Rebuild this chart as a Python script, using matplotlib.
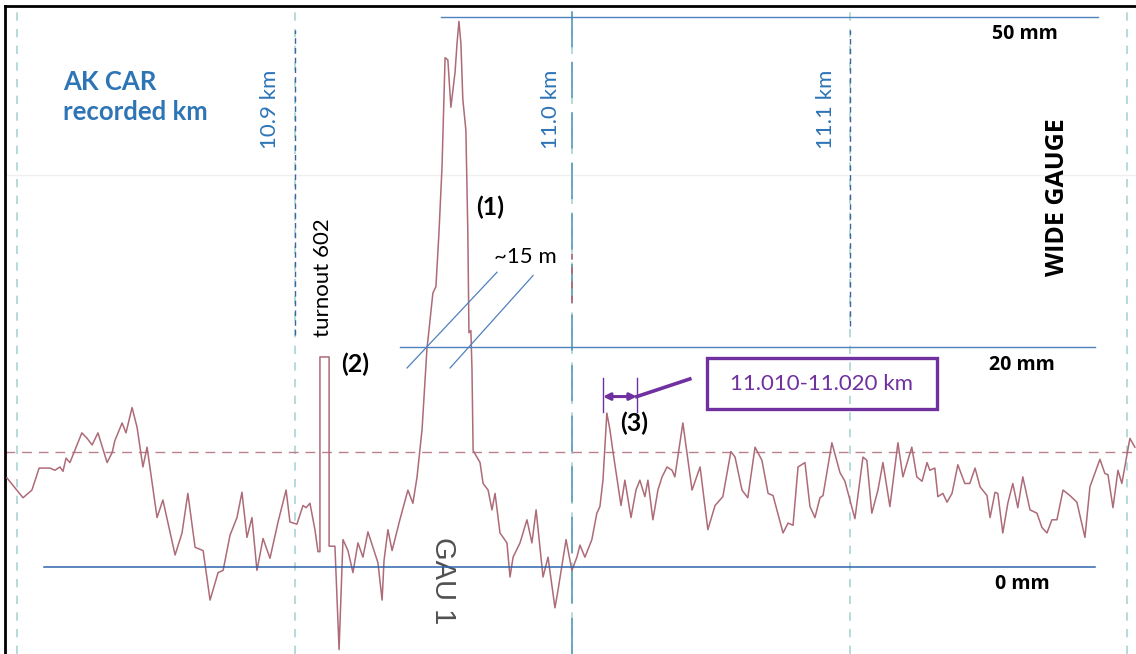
import numpy as np
import matplotlib.pyplot as plt
from matplotlib.patches import Rectangle

# gauge recording, distance in m, gauge deviation in mm
dist_m = [10796.2, 10799.1, 10802.0, 10805.2, 10807.8, 10811.7, 10813.5, 10815.3, 10816.4, 10817.5,
          10818.9, 10823.2, 10825.1, 10826.9, 10829.0, 10832.3, 10834.1, 10835.1, 10837.7, 10839.1,
          10841.3, 10843.1, 10845.2, 10846.7, 10850.3, 10852.4, 10856.8, 10859.3, 10861.4, 10864.0,
          10866.9, 10869.4, 10872.3, 10874.1, 10876.6, 10879.1, 10880.9, 10882.7, 10884.5, 10886.3,
          10888.5, 10891.0, 10893.9, 10896.8, 10898.2, 10900.7, 10902.9, 10904.0, 10905.4, 10907.2,
          10908.3, 10909.0, 10909.0, 10912.3, 10912.3, 10914.4, 10915.9, 10917.3, 10919.1, 10920.9,
          10922.7, 10924.5, 10926.3, 10928.1, 10929.9, 10931.4, 10932.1, 10933.5, 10935.0, 10937.8,
          10940.7, 10942.5, 10944.0, 10945.8, 10947.6, 10947.9, 10949.7, 10950.8, 10951.9, 10953.0,
          10954.1, 10955.1, 10956.2, 10957.7, 10958.4, 10959.1, 10959.8, 10960.5, 10961.6, 10962.3,
          10962.7, 10963.4, 10963.8, 10964.2, 10966.7, 10967.8, 10969.6, 10971.0, 10972.1, 10973.9,
          10976.4, 10977.5, 10978.6, 10981.1, 10983.6, 10985.4, 10986.9, 10989.4, 10991.2, 10993.0,
          10993.7, 10994.8, 10997.7, 10999.8, 11001.6, 11002.7, 11004.5, 11007.0, 11008.8, 11009.9,
          11011.0, 11012.4, 11013.5, 11014.6, 11017.5, 11018.9, 11021.1, 11022.9, 11024.3, 11026.1,
          11027.2, 11029.0, 11030.8, 11032.3, 11034.1, 11035.9, 11036.9, 11039.8, 11043.1, 11046.0,
          11048.8, 11051.4, 11054.2, 11057.1, 11058.6, 11061.1, 11063.2, 11065.8, 11068.3, 11070.5,
          11072.3, 11075.9, 11077.7, 11079.5, 11081.3, 11083.8, 11085.6, 11087.4, 11089.2, 11090.3,
          11093.5, 11096.4, 11098.2, 11101.8, 11104.7, 11106.1, 11107.9, 11110.1, 11111.9, 11114.4,
          11117.3, 11119.1, 11122.3, 11124.1, 11126.0, 11127.8, 11128.8, 11130.6, 11131.7, 11133.5,
          11135.0, 11136.8, 11138.9, 11141.4, 11143.2, 11145.1, 11146.9, 11149.4, 11150.5, 11152.3,
          11153.3, 11155.1, 11156.9, 11158.7, 11160.5, 11162.3, 11164.9, 11167.4, 11169.2, 11171.0,
          11172.8, 11174.6, 11176.8, 11179.3, 11181.8, 11184.7, 11186.5, 11190.1, 11191.9, 11193.0,
          11194.8, 11196.6, 11198.0, 11200.9, 11202.7]
gauge_mm = [8.1, 7.2, 6.3, 7.0, 9.0, 9.0, 8.8, 9.1, 8.7, 9.9,
            9.5, 12.2, 11.7, 11.1, 12.2, 9.5, 10.4, 11.5, 13.1, 12.2,
            14.5, 12.7, 9.1, 10.9, 4.5, 6.1, 1.1, 3.1, 6.7, 1.8,
            1.5, -3.0, -0.5, -0.3, 2.9, 4.5, 6.8, 2.7, 4.5, -0.3,
            2.6, 0.8, 4.1, 7.0, 4.1, 3.9, 5.6, 5.4, 5.8, 3.4,
            1.4, 1.4, 19.1, 19.1, 1.9, 1.9, -7.5, 2.5, 1.5, -0.5,
            2.2, 0.9, 3.2, 1.8, 0.4, -3.0, 0.6, 3.4, 1.5, 4.3,
            7.0, 5.8, 8.2, 12.5, 20.0, 20.6, 24.9, 25.5, 30.4, 36.4,
            46.3, 46.1, 41.8, 45.0, 47.6, 49.6, 47.6, 42.5, 39.7, 30.4,
            21.3, 21.5, 17.9, 10.6, 9.5, 7.6, 7.0, 5.2, 6.7, 3.1,
            2.2, -0.9, 0.9, 2.2, 4.3, 2.2, 5.2, -0.9, 0.9, -2.4,
            -3.7, -2.1, 2.5, -0.3, 0.9, 2.0, 0.9, 2.5, 4.9, 5.5,
            7.9, 14.0, 12.5, 10.5, 5.6, 7.9, 4.5, 7.0, 7.9, 6.4,
            7.9, 4.3, 7.0, 8.2, 9.1, 8.8, 8.2, 13.1, 7.0, 9.1,
            3.4, 5.6, 6.4, 10.5, 10.0, 7.0, 6.3, 10.9, 9.7, 6.7,
            6.5, 3.1, 4.0, 3.8, 9.1, 9.5, 5.5, 4.5, 6.3, 6.5,
            11.3, 8.6, 7.8, 4.4, 10.0, 9.7, 4.9, 7.0, 9.5, 5.5,
            11.3, 8.2, 10.9, 8.2, 7.8, 9.5, 8.8, 9.0, 6.4, 6.7,
            5.9, 6.7, 9.3, 7.6, 7.6, 9.0, 7.3, 6.5, 4.5, 6.8,
            6.7, 3.1, 5.8, 7.6, 5.4, 8.2, 5.2, 4.9, 3.6, 3.1,
            4.3, 4.3, 7.0, 6.5, 5.9, 2.7, 7.3, 9.8, 8.5, 8.4,
            5.4, 8.8, 7.6, 11.7, 10.9]

km_marks = [10800, 10900, 11000, 11100, 11200]
km_labels = ["10.9 km", "11.0 km", "11.1 km"]
levels_mm = [0, 20, 50]
level_labels = ["0 mm", "20 mm", "50 mm"]
ref_mm = 10.5

trace_col = '#ad6b78'
blue = '#4f81bd'
label_blue = '#2e75b6'
purple = '#7030a0'
grid_col = '#a9d3d3'

fig = plt.figure(figsize=(11.36, 6.54), dpi=100)
ax = fig.add_axes([5 / 1136, 0, 1131 / 1136, 648 / 654])
ax.set_xlim(10795.5, 11203.1)
ax.set_ylim(-7.9, 51.0)
ax.set_xticks([])
ax.set_yticks([])
for s in ['right', 'bottom']:
    ax.spines[s].set_visible(False)
for s in ['left', 'top']:
    ax.spines[s].set_linewidth(2)

# faint crease in the scan
ax.axhline(35.6, color='#f0f0f0', lw=1, zorder=0)

# paper grid at every 0.1 km
for xm in km_marks:
    ax.axvline(xm, color=grid_col, lw=1.2, ls=(0, (5, 5)), zorder=1)
# marked km lines (upper part in dark blue)
ax.plot([10900, 10900], [21.1, 48.8], color='#3b64a0', lw=1, ls=(0, (4, 3)), zorder=2)
ax.plot([11100, 11100], [21.9, 48.8], color='#3b64a0', lw=1, ls=(0, (4, 3)), zorder=2)
ax.plot([11000, 11000], [-7.9, 51.0], color='#5fa2bf', lw=1.3, ls=(0, (20, 8)), zorder=2)
ax.plot([11000, 11000], [24.0, 28.5], color=trace_col, lw=1.3, ls=(0, (4, 4)), zorder=2)

# reference line of the recorder
ax.axhline(ref_mm, color='#b8808a', lw=1, ls=(0, (7, 5)), zorder=2)

# gauge trace
ax.plot(dist_m, gauge_mm, color=trace_col, lw=1.1, zorder=3)

# level lines
ax.plot([10809.6, 11188.3], [levels_mm[0]] * 2, color='#2e64ae', lw=1.1, zorder=4)
ax.plot([10937.8, 11188.3], [levels_mm[1]] * 2, color=blue, lw=1, zorder=4)
ax.plot([10952.6, 11189.4], [levels_mm[2]] * 2, color=blue, lw=1, zorder=4)

# ~15 m slope lines
ax.plot([10940.4, 10972.8], [18.1, 26.8], color=blue, lw=0.9, zorder=4)
ax.plot([10955.9, 10985.8], [18.1, 26.5], color=blue, lw=0.9, zorder=4)

# texts
ax.text(10816.4, 44.1, "AK CAR", color=label_blue, fontsize=18.5, fontweight='bold',
        family='Lato', ha='left', va='center')
ax.text(10816.4, 41.4, "recorded km", color=label_blue, fontsize=18.5, fontweight='bold',
        family='Lato', ha='left', va='center')
for xm, lab in zip([10891.0, 10992.2, 11091.4], km_labels):
    ax.text(xm, 41.6, lab, color=label_blue, fontsize=16, rotation=90,
            family='Lato', ha='center', va='center')
ax.text(10910.1, 26.3, "turnout 602", color='black', fontsize=16, rotation=90,
        family='Lato', ha='center', va='center')
bold = dict(color='black', fontsize=18, fontweight='bold', family='Lato',
            ha='center', va='center')
ax.text(10921.6, 18.4, "(2)", **bold)
ax.text(10970.3, 32.7, "(1)", **bold)
ax.text(11022.2, 13.1, "(3)", **bold)
ax.text(10982.9, 28.2, "~15 m", color='black', fontsize=16, family='Lato',
        ha='center', va='center')
ax.text(10953.3, -1.2, "GAU 1", color='#505050', fontsize=21, rotation=-90,
        family='Liberation Sans', ha='center', va='center')
mm_kw = dict(color='black', fontsize=14, fontweight='bold', family='Open Sans',
             ha='center', va='center')
for xm, ym, lab in zip([11162.3, 11162.0, 11163.1], [-1.5, 18.4, 48.5], level_labels):
    ax.text(xm, ym, lab, **mm_kw)
ax.text(11174.9, 33.6, "WIDE GAUGE", color='black', fontsize=18, fontweight='bold',
        family='Open Sans', rotation=90, ha='center', va='center')

# section 11.010-11.020 km
ax.add_patch(Rectangle((11048.5, 14.4), 82.9, 4.6, fill=False, ec=purple, lw=2.4, zorder=5))
ax.text(11089.9, 16.6, "11.010-11.020 km", color=purple, fontsize=16,
        family='Lato', ha='center', va='center')
ax.plot([11011.0, 11011.0], [14.1, 17.2], color=purple, lw=1, zorder=5)
ax.plot([11023.2, 11023.2], [14.1, 17.2], color=purple, lw=1, zorder=5)
ax.annotate("", xy=(11011.0, 15.5), xytext=(11023.2, 15.5),
            arrowprops=dict(arrowstyle='<|-|>', color=purple, lw=2.2,
                            mutation_scale=10, shrinkA=0, shrinkB=0))
ax.plot([11023.2, 11042.3], [15.5, 17.1], color=purple, lw=2.6, zorder=5)

fig.savefig("out.png", dpi=100)
